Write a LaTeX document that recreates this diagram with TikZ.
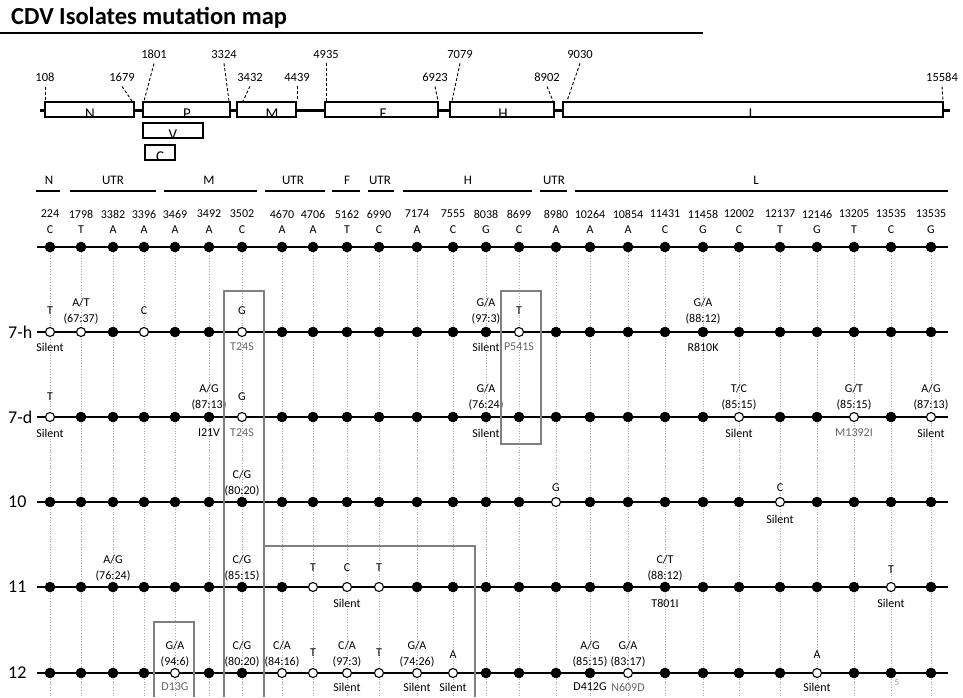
\documentclass[tikz,border=0pt]{standalone}
\usepackage{fontspec}
\setmainfont{Carlito}
\usetikzlibrary{calc}
\newcommand\mabove[3]{\node[mtxt] (#1u) at ($(#1)+(0,#2)$) {#3};}
\newcommand\mbelow[4][]{\node[mtxt,#1] (#2d) at ($(#2)+(0,#3)$) {#4};}
\newcommand\posl[6]{\node[postxt] (#1) at (#3,#4) {#2};
  \coordinate (#1e) at (#5,#6);
  \draw[leader] ($(#1.south)+(0,5)$) -- (#1e);}
\newcommand\segm[5]{\node[segtxt] (#1) at (#3,180) {#2};
  \coordinate (#1a) at (#4,191); \coordinate (#1b) at (#5,191);
  \draw[segline] (#1a) -- (#1b);}
\begin{document}
\begin{tikzpicture}[x=1pt,y=-1pt,
  dotf/.style={circle,fill=black,draw=black,line width=0.5pt,inner sep=0pt,minimum size=10pt},
  doto/.style={circle,fill=white,draw=black,line width=1.1pt,inner sep=0pt,minimum size=9pt},
  mtxt/.style={font=\fontsize{12}{15.5}\selectfont,inner sep=0pt,align=center},
  graytxt/.style={text=black!60},
  numtxt/.style={font=\fontsize{12}{14}\selectfont,inner sep=0pt},
  segtxt/.style={font=\fontsize{13}{15}\selectfont,inner sep=0pt},
  segline/.style={line width=2.4pt},
  rowline/.style={line width=1.6pt},
  vdot/.style={black!35,dotted,line width=0.7pt},
  hibox/.style={draw=black!50,line width=2.2pt},
  gene/.style={draw,line width=1.8pt,fill=white,inner sep=0pt},
  genetxt/.style={font=\fontsize{15}{17}\selectfont,inner sep=0pt,anchor=base},
  postxt/.style={font=\fontsize{12.5}{14}\selectfont,inner sep=0pt},
  leader/.style={dash pattern=on 3pt off 2pt,line width=0.9pt},
  rowlab/.style={font=\fontsize{18}{20}\selectfont,inner sep=0pt,anchor=west}
]
\useasboundingbox (0,0) rectangle (963,697);

% ---------- title ----------
\node[font=\bfseries\fontsize{24.5}{26}\selectfont,anchor=west,inner sep=0pt] (title) at (11,18) {CDV Isolates mutation map};
\coordinate (ul1) at (0,33); \coordinate (ul2) at (703,33);
\draw[line width=2.2pt] (ul1) -- (ul2);

% ---------- genome map ----------
\coordinate (bb1) at (40,110); \coordinate (bb2) at (950,110);
\draw[line width=3pt] (bb1) -- (bb2);
\node[gene,minimum width=89pt,minimum height=15pt] (gN) at (89.5,109.5) {};
\node[gene,minimum width=87pt,minimum height=15pt] (gP) at (186.5,109.5) {};
\node[gene,minimum width=59pt,minimum height=15pt] (gM) at (266.5,109.5) {};
\node[gene,minimum width=113pt,minimum height=15pt] (gF) at (381.5,109.5) {};
\node[gene,minimum width=104pt,minimum height=15pt] (gH) at (502,109.5) {};
\node[gene,minimum width=380pt,minimum height=15pt] (gL) at (753,109.5) {};
\node[gene,minimum width=60pt,minimum height=15pt] (gV) at (173,130.5) {};
\node[gene,minimum width=30pt,minimum height=15pt] (gC) at (160,152.5) {};
\node[genetxt] (tN) at (90,118) {N};
\node[genetxt] (tP) at (187,118) {P};
\node[genetxt] (tM) at (272,118) {M};
\node[genetxt] (tF) at (383,118) {F};
\node[genetxt] (tH) at (503,118) {H};
\node[genetxt] (tL) at (752,118) {L};
\node[genetxt] (tV) at (173,139) {V};
\node[genetxt] (tC) at (160,161) {C};

\posl{p108}{108}{45}{77}{45}{101}
\posl{p1679}{1679}{122}{77}{132}{101}
\posl{p1801}{1801}{154}{54}{144}{101}
\posl{p3324}{3324}{224}{54}{229}{101}
\posl{p3432}{3432}{250}{77}{243}{101}
\posl{p4439}{4439}{297}{77}{297}{101}
\posl{p4935}{4935}{326}{54}{326}{101}
\posl{p6923}{6923}{435}{77}{438}{101}
\posl{p7079}{7079}{460}{54}{452}{101}
\posl{p8902}{8902}{547}{77}{553}{101}
\posl{p9030}{9030}{580}{54}{567}{101}
\posl{p15584}{15584}{942}{77}{943}{101}

% ---------- segment headers ----------
\segm{sN}{N}{49}{36}{60}
\segm{sU1}{UTR}{113}{70}{156}
\segm{sM}{M}{209}{164}{257}
\segm{sU2}{UTR}{293}{265}{325}
\segm{sF}{F}{347}{332}{360}
\segm{sU3}{UTR}{380}{368}{394}
\segm{sH}{H}{468}{403}{532}
\segm{sU4}{UTR}{554}{540}{567}
\segm{sL}{L}{756}{575}{948}

% ---------- columns ----------
\foreach \x [count=\i from 0] in {50,81,113,144,175,209,242,282,313,347,379,417,453,486,519,556,590,628,665,703,739,780,817,854,891,931}
  \coordinate (c\i) at (\x,247);
\coordinate (vb) at (0,697);
\foreach \i in {0,...,25} \draw[vdot] (c\i) -- (c\i |- vb);

\foreach \n [count=\i from 0] in {224,1798,3382,3396,3469,3492,3502,4670,4706,5162,6990,7174,7555,8038,8699,8980,10264,10854,11431,11458,12002,12137,12146,13205,13535,13535}
  \node[numtxt] (n\i) at ($(c\i)+(0,-33)$) {\n};
\foreach \b [count=\i from 0] in {C,T,A,A,A,A,C,A,A,T,C,A,C,G,C,A,A,A,C,G,C,T,G,T,C,G}
  \node[numtxt] (b\i) at ($(c\i)+(0,-17)$) {\b};

% ---------- row lines ----------
\coordinate (y0) at (0,247); \coordinate (ya) at (0,332); \coordinate (yb) at (0,417);
\coordinate (yc) at (0,502); \coordinate (yd) at (0,587); \coordinate (ye) at (0,673);
\foreach \r in {0,a,b,c,d,e} {
  \coordinate (s\r) at (37,0 |- y\r); \coordinate (e\r) at (948,0 |- y\r);
  \draw[rowline] (s\r |- y\r) -- (e\r |- y\r);
}

% ---------- row labels ----------
\node[rowlab] (la) at (8,332) {7-h};
\node[rowlab] (lb) at (8,417) {7-d};
\node[rowlab] (lc) at (8,502) {10};
\node[rowlab] (ld) at (8,587) {11};
\node[rowlab] (le) at (8,673) {12};

% ---------- dots ----------
\foreach \i in {0,...,25} \node[dotf] (r0c\i) at (c\i) {};
\foreach \t [count=\i from 0] in {o,o,f,o,f,f,o,f,f,f,f,f,f,f,o,f,f,f,f,f,f,f,f,f,f,f}
  \node[dot\t] (ra\i) at (c\i |- ya) {};
\foreach \t [count=\i from 0] in {o,f,f,f,f,f,o,f,f,f,f,f,f,f,f,f,f,f,f,f,o,f,f,o,f,o}
  \node[dot\t] (rb\i) at (c\i |- yb) {};
\foreach \t [count=\i from 0] in {f,f,f,f,f,f,f,f,f,f,f,f,f,f,f,o,f,f,f,f,f,o,f,f,f,f}
  \node[dot\t] (rc\i) at (c\i |- yc) {};
\foreach \t [count=\i from 0] in {f,f,f,f,f,f,f,f,o,o,o,f,f,f,f,f,f,f,f,f,f,f,f,f,o,f}
  \node[dot\t] (rd\i) at (c\i |- yd) {};
\foreach \t [count=\i from 0] in {f,f,f,f,o,f,f,o,o,o,o,o,o,f,f,f,f,o,f,f,f,f,o,f,f,f}
  \node[dot\t] (re\i) at (c\i |- ye) {};

% ---------- row 7-h ----------
\mabove{ra0}{-21}{T}
\mabove{ra1}{-21}{A/T\\(67:37)}
\mabove{ra3}{-21}{C}
\mabove{ra6}{-21}{G}
\mabove{ra13}{-21}{G/A\\(97:3)}
\mabove{ra14}{-21}{T}
\mabove{ra19}{-21}{G/A\\(88:12)}
\mbelow{ra0}{15}{Silent}
\mbelow[graytxt]{ra6}{15}{T24S}
\mbelow{ra13}{15}{Silent}
\mbelow[graytxt]{ra14}{15}{P541S}
\mbelow{ra19}{15}{R810K}

% ---------- row 7-d ----------
\mabove{rb0}{-20}{T}
\mabove{rb5}{-20}{A/G\\(87:13)}
\mabove{rb6}{-20}{G}
\mabove{rb13}{-20}{G/A\\(76:24)}
\mabove{rb20}{-20}{T/C\\(85:15)}
\mabove{rb23}{-20}{G/T\\(85:15)}
\mabove{rb25}{-20}{A/G\\(87:13)}
\mbelow{rb0}{16}{Silent}
\mbelow{rb5}{16}{I21V}
\mbelow[graytxt]{rb6}{16}{T24S}
\mbelow{rb13}{16}{Silent}
\mbelow{rb20}{16}{Silent}
\mbelow[graytxt]{rb23}{16}{M1392I}
\mbelow{rb25}{16}{Silent}

% ---------- row 10 ----------
\mabove{rc6}{-19}{C/G\\(80:20)}
\mabove{rc15}{-14}{G}
\mabove{rc21}{-14}{C}
\mbelow{rc21}{17}{Silent}

% ---------- row 11 ----------
\mabove{rd2}{-19}{A/G\\(76:24)}
\mabove{rd6}{-19}{C/G\\(85:15)}
\mabove{rd8}{-19}{T}
\mabove{rd9}{-19}{C}
\mabove{rd10}{-19}{T}
\mabove{rd18}{-19}{C/T\\(88:12)}
\mabove{rd24}{-17}{T}
\mbelow{rd9}{16}{Silent}
\mbelow{rd18}{16}{T801I}
\mbelow{rd24}{16}{Silent}

% ---------- row 12 ----------
\mabove{re4}{-19}{G/A\\(94:6)}
\mabove{re6}{-19}{C/G\\(80:20)}
\mabove{re7}{-19}{C/A\\(84:16)}
\mabove{re8}{-20}{T}
\mabove{re9}{-19}{C/A\\(97:3)}
\mabove{re10}{-20}{T}
\mabove{re11}{-19}{G/A\\(74:26)}
\mabove{re12}{-18}{A}
\mabove{re16}{-19}{A/G\\(85:15)}
\mabove{re17}{-19}{G/A\\(83:17)}
\mabove{re22}{-18}{A}
\mbelow[graytxt]{re4}{14}{D13G}
\mbelow{re9}{14}{Silent}
\mbelow{re11}{14}{Silent}
\mbelow{re12}{14}{Silent}
\mbelow{re16}{14}{D412G}
\mbelow[graytxt]{re17}{14}{N609D}
\mbelow{re22}{14}{Silent}
\node[font=\fontsize{9}{10}\selectfont,text=black!40,inner sep=0pt] (pg) at (897,683) {5};

% ---------- highlight boxes ----------
\draw[hibox] (224,697) -- (224,291) -- (264,291) -- (264,697);
\draw[hibox] (501,291) rectangle (541,444);
\draw[hibox] (264,697) -- (264,546) -- (475,546) -- (475,697);
\draw[hibox] (154,697) -- (154,622) -- (194,622) -- (194,697);
\end{tikzpicture}
\end{document}
